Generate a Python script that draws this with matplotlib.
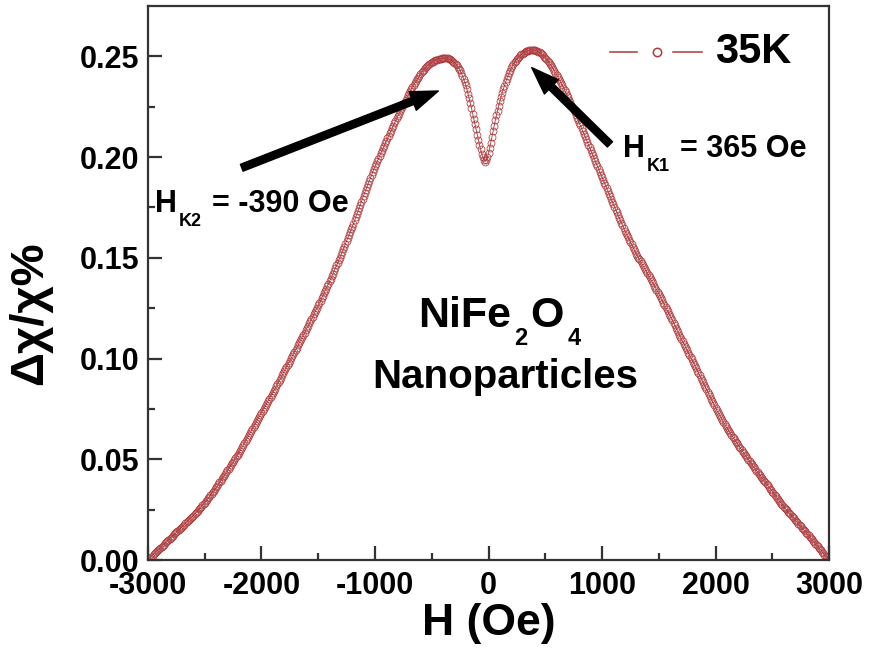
import numpy as np
import matplotlib
matplotlib.use("Agg")
import matplotlib.pyplot as plt
from matplotlib.ticker import FormatStrFormatter

plt.rcParams["font.family"] = ["Liberation Sans", "DejaVu Sans"]
plt.rcParams["font.weight"] = "bold"
plt.rcParams["axes.unicode_minus"] = False

# field sweep (Oe), 10 Oe steps
field = np.arange(-3000, 3001, 10)

# delta chi / chi (%) at 35 K
chi_left = [
    0.0000,
    0.0006, 0.0011, 0.0017, 0.0022, 0.0028, 0.0033, 0.0039, 0.0044, 0.0050, 0.0055,
    0.0061, 0.0066, 0.0072, 0.0077, 0.0083, 0.0088, 0.0094, 0.0099, 0.0105, 0.0110,
    0.0116, 0.0121, 0.0127, 0.0132, 0.0138, 0.0143, 0.0149, 0.0154, 0.0160, 0.0165,
    0.0171, 0.0176, 0.0182, 0.0187, 0.0193, 0.0198, 0.0204, 0.0209, 0.0215, 0.0221,
    0.0227, 0.0233, 0.0239, 0.0245, 0.0252, 0.0258, 0.0265, 0.0271, 0.0278, 0.0285,
    0.0292, 0.0299, 0.0306, 0.0314, 0.0321, 0.0329, 0.0337, 0.0344, 0.0352, 0.0360,
    0.0368, 0.0377, 0.0385, 0.0394, 0.0402, 0.0411, 0.0419, 0.0428, 0.0436, 0.0445,
    0.0454, 0.0462, 0.0471, 0.0480, 0.0488, 0.0497, 0.0506, 0.0514, 0.0523, 0.0532,
    0.0542, 0.0551, 0.0561, 0.0571, 0.0581, 0.0591, 0.0601, 0.0610, 0.0620, 0.0630,
    0.0640, 0.0650, 0.0660, 0.0670, 0.0680, 0.0690, 0.0700, 0.0710, 0.0720, 0.0730,
    0.0740, 0.0750, 0.0760, 0.0770, 0.0780, 0.0790, 0.0800, 0.0810, 0.0820, 0.0830,
    0.0841, 0.0851, 0.0862, 0.0873, 0.0884, 0.0894, 0.0905, 0.0916, 0.0926, 0.0937,
    0.0948, 0.0958, 0.0969, 0.0979, 0.0990, 0.1001, 0.1011, 0.1022, 0.1032, 0.1043,
    0.1054, 0.1065, 0.1075, 0.1086, 0.1097, 0.1108, 0.1119, 0.1129, 0.1140, 0.1151,
    0.1162, 0.1174, 0.1185, 0.1196, 0.1207, 0.1219, 0.1230, 0.1241, 0.1253, 0.1264,
    0.1276, 0.1288, 0.1300, 0.1312, 0.1324, 0.1335, 0.1347, 0.1359, 0.1371, 0.1383,
    0.1396, 0.1409, 0.1422, 0.1435, 0.1448, 0.1462, 0.1475, 0.1488, 0.1501, 0.1514,
    0.1528, 0.1542, 0.1556, 0.1570, 0.1585, 0.1599, 0.1613, 0.1627, 0.1641, 0.1655,
    0.1670, 0.1686, 0.1701, 0.1717, 0.1732, 0.1747, 0.1763, 0.1778, 0.1794, 0.1809,
    0.1824, 0.1838, 0.1853, 0.1867, 0.1882, 0.1896, 0.1911, 0.1925, 0.1940, 0.1954,
    0.1967, 0.1979, 0.1992, 0.2005, 0.2018, 0.2030, 0.2043, 0.2056, 0.2068, 0.2081,
    0.2093, 0.2106, 0.2118, 0.2130, 0.2143, 0.2155, 0.2167, 0.2179, 0.2192, 0.2204,
    0.2216, 0.2227, 0.2238, 0.2250, 0.2261, 0.2273, 0.2284, 0.2295, 0.2307, 0.2318,
    0.2329, 0.2339, 0.2349, 0.2358, 0.2368, 0.2377, 0.2386, 0.2395, 0.2404, 0.2412,
    0.2420, 0.2427, 0.2434, 0.2441, 0.2447, 0.2452, 0.2457, 0.2462, 0.2466, 0.2470,
    0.2474, 0.2477, 0.2480, 0.2482, 0.2484, 0.2486, 0.2488, 0.2489, 0.2490, 0.2490,
    0.2491, 0.2491, 0.2491, 0.2490, 0.2488, 0.2486, 0.2483, 0.2478, 0.2473,
]
chi_mid = [
    0.2468, 0.2462, 0.2455, 0.2447, 0.2439, 0.2430, 0.2418, 0.2404, 0.2389, 0.2374,
    0.2358, 0.2336, 0.2314, 0.2291, 0.2267, 0.2242, 0.2216, 0.2190, 0.2164, 0.2138,
    0.2112, 0.2087, 0.2062, 0.2038, 0.2016, 0.1998, 0.1984, 0.1978, 0.1984, 0.1998,
    0.2018, 0.2044, 0.2072, 0.2100, 0.2128, 0.2156, 0.2182, 0.2207, 0.2231, 0.2254,
    0.2276, 0.2297, 0.2317, 0.2336, 0.2354, 0.2371, 0.2387, 0.2402, 0.2416, 0.2429,
    0.2441, 0.2452, 0.2462, 0.2471, 0.2479, 0.2486, 0.2493, 0.2499, 0.2505, 0.2510,
    0.2514,
]
chi_right = [
    0.2518, 0.2521, 0.2525, 0.2527, 0.2529, 0.2531, 0.2532, 0.2532, 0.2532, 0.2531,
    0.2530, 0.2528, 0.2526, 0.2523, 0.2520, 0.2515, 0.2510, 0.2505, 0.2499, 0.2493,
    0.2486, 0.2479, 0.2472, 0.2464, 0.2456, 0.2447, 0.2438, 0.2429, 0.2419, 0.2409,
    0.2399, 0.2388, 0.2378, 0.2367, 0.2356, 0.2344, 0.2333, 0.2321, 0.2309, 0.2297,
    0.2285, 0.2272, 0.2260, 0.2247, 0.2235, 0.2222, 0.2209, 0.2196, 0.2183, 0.2170,
    0.2157, 0.2143, 0.2130, 0.2116, 0.2103, 0.2089, 0.2076, 0.2062, 0.2049, 0.2035,
    0.2021, 0.2008, 0.1994, 0.1981, 0.1967, 0.1954, 0.1940, 0.1927, 0.1913, 0.1900,
    0.1887, 0.1873, 0.1860, 0.1846, 0.1832, 0.1819, 0.1805, 0.1792, 0.1778, 0.1765,
    0.1752, 0.1739, 0.1726, 0.1713, 0.1700, 0.1687, 0.1674, 0.1661, 0.1648, 0.1635,
    0.1623, 0.1612, 0.1601, 0.1589, 0.1578, 0.1567, 0.1555, 0.1544, 0.1532, 0.1521,
    0.1511, 0.1501, 0.1492, 0.1482, 0.1472, 0.1462, 0.1452, 0.1443, 0.1433, 0.1423,
    0.1413, 0.1403, 0.1393, 0.1383, 0.1373, 0.1362, 0.1352, 0.1342, 0.1332, 0.1322,
    0.1311, 0.1300, 0.1289, 0.1278, 0.1267, 0.1256, 0.1245, 0.1234, 0.1223, 0.1212,
    0.1200, 0.1189, 0.1177, 0.1166, 0.1154, 0.1142, 0.1131, 0.1119, 0.1108, 0.1096,
    0.1085, 0.1074, 0.1063, 0.1052, 0.1041, 0.1029, 0.1018, 0.1007, 0.0996, 0.0985,
    0.0974, 0.0962, 0.0951, 0.0939, 0.0928, 0.0916, 0.0905, 0.0893, 0.0882, 0.0870,
    0.0859, 0.0847, 0.0836, 0.0824, 0.0813, 0.0801, 0.0790, 0.0778, 0.0767, 0.0755,
    0.0745, 0.0735, 0.0725, 0.0715, 0.0705, 0.0695, 0.0685, 0.0675, 0.0665, 0.0655,
    0.0647, 0.0638, 0.0630, 0.0621, 0.0613, 0.0604, 0.0596, 0.0587, 0.0579, 0.0570,
    0.0562, 0.0554, 0.0546, 0.0538, 0.0530, 0.0522, 0.0514, 0.0506, 0.0498, 0.0490,
    0.0482, 0.0475, 0.0467, 0.0460, 0.0452, 0.0444, 0.0437, 0.0429, 0.0422, 0.0414,
    0.0407, 0.0399, 0.0392, 0.0385, 0.0377, 0.0370, 0.0362, 0.0355, 0.0348, 0.0340,
    0.0333, 0.0325, 0.0318, 0.0310, 0.0303, 0.0295, 0.0288, 0.0280, 0.0273, 0.0265,
    0.0259, 0.0252, 0.0246, 0.0239, 0.0233, 0.0226, 0.0220, 0.0213, 0.0207, 0.0200,
    0.0194, 0.0187, 0.0181, 0.0174, 0.0168, 0.0161, 0.0155, 0.0148, 0.0142, 0.0135,
    0.0128, 0.0122, 0.0115, 0.0108, 0.0102, 0.0095, 0.0088, 0.0081, 0.0075, 0.0068,
    0.0061, 0.0054, 0.0048, 0.0041, 0.0034, 0.0027, 0.0020, 0.0014, 0.0007, 0.0000,
]
dchi = np.array(chi_left + chi_mid + chi_right)
assert len(dchi) == len(field)

hk1, hk2 = 365, -390
red = "#ad3a3c"

fig = plt.figure(figsize=(8.71, 6.57), dpi=100)
ax = fig.add_axes([0.1699, 0.1476, 0.7819, 0.8433])

ax.plot(field, dchi, color=red, lw=0.6, marker="o", ms=5, mfc="none",
        mec=red, mew=0.55)

ax.set_xlim(-3000, 3000)
ax.set_ylim(0, 0.275)
ax.set_xticks(np.arange(-3000, 3001, 1000))
ax.set_xticks(np.arange(-2500, 3000, 1000), minor=True)
ax.set_yticks(np.arange(0, 0.251, 0.05))
ax.set_yticks(np.arange(0.025, 0.27, 0.05), minor=True)
ax.yaxis.set_major_formatter(FormatStrFormatter("%.2f"))
ax.tick_params(which="both", direction="in", width=1.6, color="#333333",
               top=False, right=False)
ax.tick_params(which="major", length=10, labelsize=22)
ax.tick_params(axis="y", which="major", pad=6)
ax.tick_params(axis="x", which="major", pad=8)
ax.tick_params(which="minor", length=5)
for s in ax.spines.values():
    s.set_linewidth(1.6)
    s.set_color("#333333")

ax.set_xlabel("H (Oe)", fontsize=32, fontweight="bold", labelpad=1)
ax.set_ylabel("Δχ/χ%", fontsize=34, fontweight="bold")
ax.yaxis.set_label_coords(-0.141, 0.446)

# arrows pointing at the two anisotropy-field peaks
arrow = dict(arrowstyle="simple,head_length=0.9,head_width=0.65,tail_width=0.24",
             mutation_scale=22, fc="black", ec="black", shrinkA=0, shrinkB=0)
ax.annotate("", xy=(-442, 0.2328), xytext=(-2174, 0.1947), arrowprops=arrow)
ax.annotate("", xy=(381, 0.2444), xytext=(1070, 0.2063), arrowprops=arrow)


def field_label(x, y, sub, rest):
    # "H" with a low subscript, then the value text
    h = ax.text(x, y, "H", fontsize=22, fontweight="bold", va="baseline")
    s = ax.annotate(sub, xy=(1, y), xycoords=(h, "data"), xytext=(1, -10),
                    textcoords="offset points", fontsize=13, fontweight="bold",
                    va="baseline")
    ax.annotate(rest, xy=(1, y), xycoords=(s, "data"), xytext=(8, 0),
                textcoords="offset points", fontsize=22, fontweight="bold",
                va="baseline")


field_label(-2938, 0.1725, "K2", "= %d Oe" % hk2)
field_label(1185, 0.1998, "K1", "= %d Oe" % hk1)

# NiFe2O4 with low subscripts
t1 = ax.text(-620, 0.1158, "NiFe", fontsize=31, fontweight="bold", va="baseline")
s1 = ax.annotate("2", xy=(1, 0.1158), xycoords=(t1, "data"), xytext=(2, -13),
                 textcoords="offset points", fontsize=17, fontweight="bold",
                 va="baseline")
t2 = ax.annotate("O", xy=(1, 0.1158), xycoords=(s1, "data"), xytext=(2, 0),
                 textcoords="offset points", fontsize=31, fontweight="bold",
                 va="baseline")
ax.annotate("4", xy=(1, 0.1158), xycoords=(t2, "data"), xytext=(3, -13),
            textcoords="offset points", fontsize=17, fontweight="bold",
            va="baseline")
ax.text(145, 0.0855, "Nanoparticles", fontsize=29, fontweight="bold",
        ha="center", va="baseline")

# legend entry: line, gap, open circle, gap, line
ly = 0.917
ax.plot([0.6784, 0.7181], [ly, ly], color=red, lw=1.1, transform=ax.transAxes,
        clip_on=False)
ax.plot([0.7709, 0.8135], [ly, ly], color=red, lw=1.1, transform=ax.transAxes,
        clip_on=False)
ax.plot([0.7474], [ly], ls="none", marker="o", ms=6, mfc="white", mec=red,
        mew=1.1, transform=ax.transAxes, clip_on=False)
ax.text(0.8326, ly, "35K", fontsize=30, fontweight="bold", va="center",
        transform=ax.transAxes)

fig.savefig("out.png", dpi=100)
